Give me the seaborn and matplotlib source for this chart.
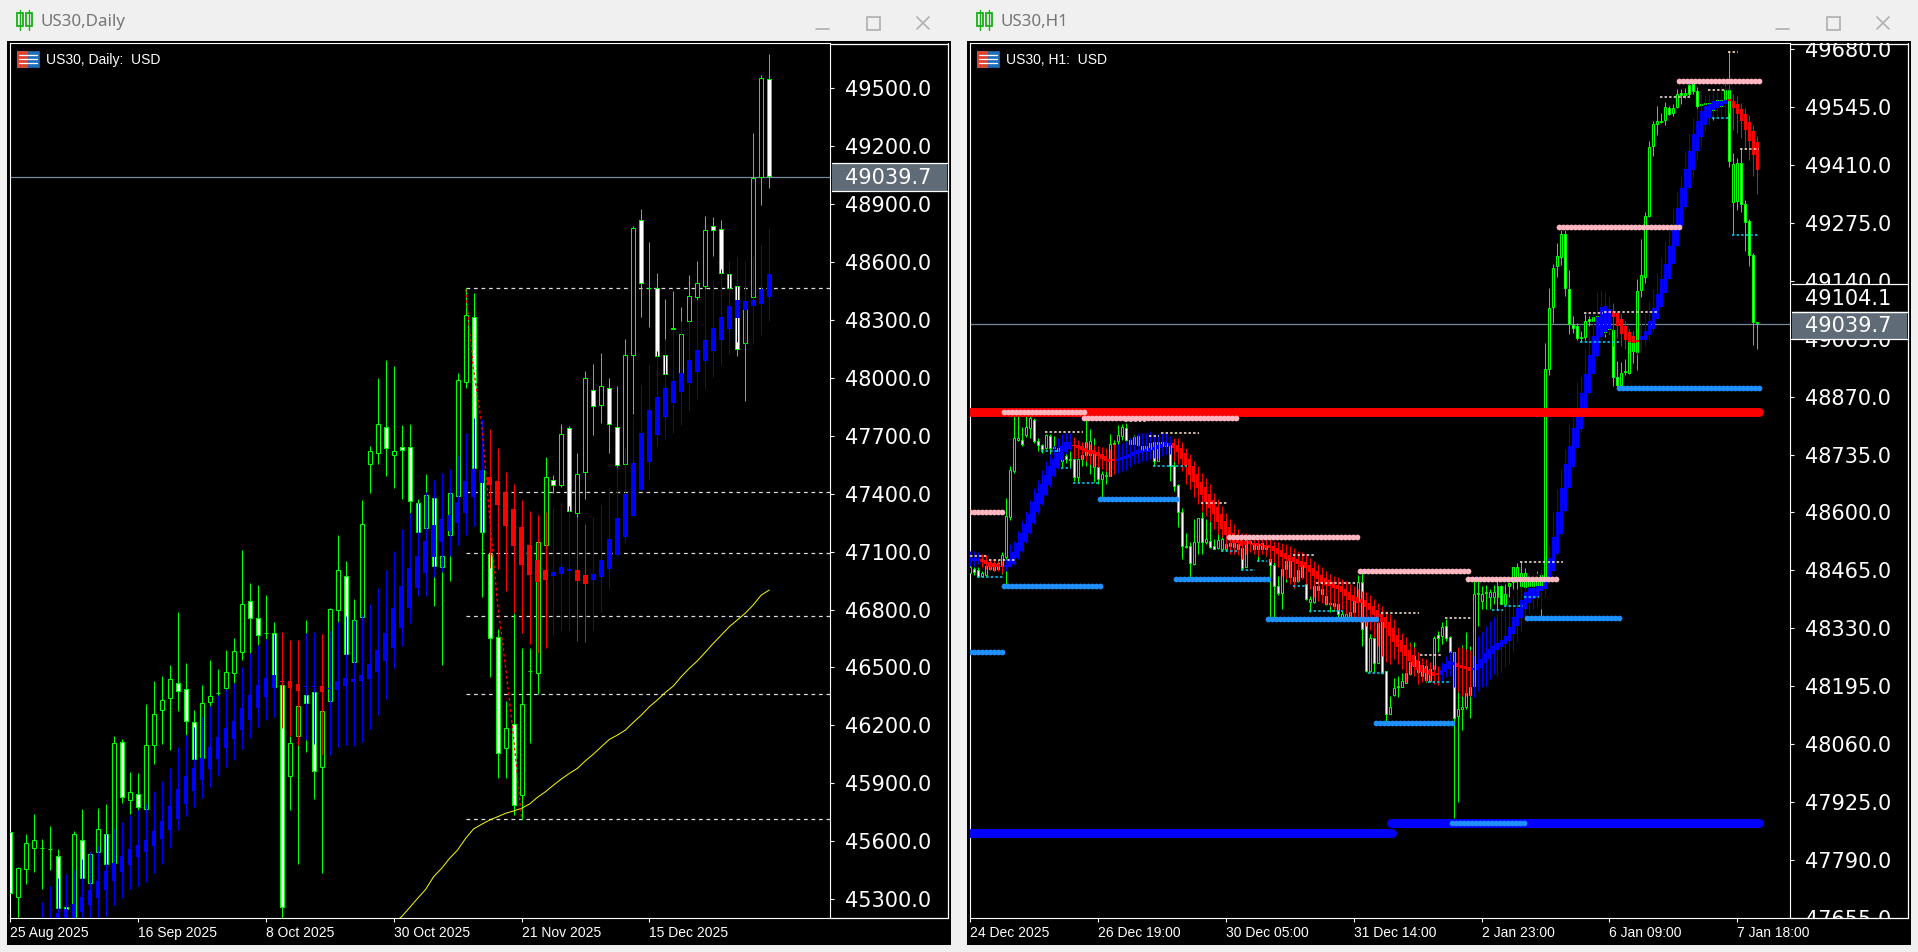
import numpy as np
import matplotlib
matplotlib.use("Agg")
import matplotlib.pyplot as plt
from matplotlib.patches import Rectangle
from matplotlib.transforms import Bbox
import seaborn as sns

# ---- Daily chart: price candles ----
d_top = [45647,45460,45590,45605,45565,45560,45525,45258,45636,45605,
         45532,45662,45636,46107,46112,45853,45843,46097,46257,46330,
         46439,46418,46387,46216,46314,46351,46370,46475,46584,46827,
         46843,46755,46680,46677,46408,46107,46299,46356,46371,46273,
         46801,47003,46972,46744,47241,47619,47759,47747,47623,47644,
         47640,47350,47392,47376,47076,47402,47987,48324,48314,47523,
         47088,46656,46185,46206,46309,46484,47148,47488,47471,47708,
         47739,47500,47998,47935,47956,47946,47744,48117,48774,48816,
         48467,48467,48117,48255,48225,48422,48490,48764,48785,48769,
         48536,48477,48395,49032,49551,49546]
d_bot = [45330,45313,45458,45567,45565,45560,45253,45251,45175,45408,
         45382,45546,45481,45486,45828,45816,45776,45769,46097,46278,
         46344,46377,46221,46024,46030,46320,46370,46396,46473,46579,
         46755,46667,46680,46401,45261,45940,46147,46314,45962,45986,
         46328,46796,46568,46530,46763,47552,47609,47635,47599,47625,
         47361,47203,47224,47027,47022,47188,47390,47977,47531,47203,
         46651,46055,46081,45786,45838,46484,46470,47133,47443,47447,
         47312,47298,47511,47853,47858,47759,47547,47552,48117,48488,
         48467,48111,48018,48253,48023,48296,48420,48477,48764,48540,
         48467,48148,48179,48417,49039,49044]
d_high = [45647,45467,45638,45741,45612,45679,45560,45296,45655,45765,
          45544,45772,45793,46145,46130,45959,45954,46311,46430,46456,
          46513,46787,46523,46280,46409,46539,46492,46591,46653,47108,
          46938,46927,46875,46736,46418,46145,46299,46746,46371,46273,
          46808,47186,47052,46855,47367,47647,47999,48092,48061,47756,
          47761,47373,47502,47412,47255,47523,48023,48464,48438,47523,
          47117,46698,46327,46781,46601,46601,47264,47588,47497,47761,
          47751,47611,48035,48072,48129,47999,47958,48201,48786,48875,
          48704,48543,48408,48450,48364,48533,48605,48838,48833,48817,
          48550,48481,48395,49268,49567,49677]
d_low = [45330,45175,45379,45441,45355,45451,45175,45158,45158,45296,
         45279,45503,45451,45477,45800,45741,45762,45745,46000,46104,
         46073,46276,46150,45978,46021,46301,46352,46383,46418,46539,
         46573,46617,46646,46392,45175,45762,45482,46062,45819,45437,
         46328,46734,46568,46530,46763,47405,47554,47492,47430,47371,
         47302,47203,47160,46818,46515,46950,47390,47949,47505,46867,
         46452,45929,45926,45736,45714,46107,46363,47133,47402,47436,
         47312,47276,47374,47701,47764,47611,47471,47471,47813,48312,
         48265,48111,48018,48253,48006,48296,48403,48458,48631,48540,
         48467,48110,47877,48417,48892,48983]
d_white = [0,6,7,9,12,14,16,21,22,23,30,31,33,34,37,38,42,47,49,50,51,53,58,59,
           60,61,63,68,70,73,75,76,79,81,82,88,89,90,91,95]

# Daily smoothed candles, bar 4 onwards
da_first = 4
da_top = [45158,45149,45227,45249,45275,45310,45348,45393,45444,45486,45524,45558,
          45579,45607,45653,45705,45783,45871,45938,45979,46031,46088,46140,46187,
          46221,46290,46356,46408,46444,46459,46428,46428,46415,46402,46402,46404,
          46394,46428,46444,46439,46459,46518,46591,46677,46808,46922,47015,47077,
          47155,47238,47269,47290,47357,47466,47526,47523,47485,47466,47409,47321,
          47228,47134,47057,47005,46995,47019,47010,47005,46979,46984,47057,47165,
          47274,47399,47557,47713,47834,47901,47947,47984,48023,48092,48144,48196,
          48258,48313,48372,48403,48396,48403,48460,48538]
da_bot = [45054,45054,45175,45158,45175,45235,45270,45308,45349,45394,45443,45477,
          45519,45546,45577,45614,45660,45715,45795,45860,45919,45974,46026,46085,
          46130,46178,46230,46292,46349,46394,46425,46394,46378,46397,46397,46373,
          46389,46385,46406,46425,46430,46440,46478,46534,46601,46705,46810,46913,
          46989,47072,47152,47207,47248,47300,47380,47454,47445,47342,47234,47131,
          47031,46979,46945,46953,46976,46986,47001,46948,46932,46953,46969,47010,
          47083,47176,47285,47419,47566,47701,47797,47870,47928,47973,48032,48087,
          48139,48196,48253,48310,48351,48372,48382,48419]
da_high = [45286,45368,45410,45431,45455,45508,45544,45581,45636,45667,45700,45736,
           45762,45796,45860,45912,45979,46088,46150,46190,46249,46301,46358,46389,
           46418,46503,46575,46616,46648,46673,46682,46642,46642,46677,46684,46673,
           46694,46734,46767,46746,46777,46829,46912,47005,47103,47216,47298,47350,
           47411,47471,47506,47526,47600,47713,47792,47785,47733,47637,47514,47450,
           47367,47310,47290,47305,47331,47357,47336,47281,47243,47281,47342,47433,
           47540,47640,47804,47963,48072,48137,48201,48253,48294,48300,48403,48455,
           48507,48562,48605,48626,48605,48631,48693,48776]
da_low = [45054,45054,45054,45054,45054,45158,45192,45192,45215,45270,45308,45353,
          45368,45389,45437,45484,45567,45658,45731,45779,45824,45881,45938,45985,
          46021,46078,46135,46192,46228,46242,46185,46145,46099,46125,46104,46047,
          46045,46090,46099,46093,46114,46181,46254,46337,46497,46611,46730,46870,
          46870,46970,46995,47077,47134,47186,47233,47203,47014,47008,46896,46781,
          46677,46622,46573,46601,46663,46694,46694,46637,46632,46694,46787,46907,
          47077,47146,47285,47419,47471,47649,47685,47714,47756,47828,47892,47942,
          48004,48067,48124,48187,48175,48175,48222,48294]
da_red = [34,35,36,39,60,61,62,63,64,65,66,67,71,72]

# Daily moving average, bar 48 onwards
ma_first = 48
ma_values = [45175,45210,45257,45305,45351,45417,45460,45512,45555,45615,45664,45688,
             45710,45727,45745,45757,45771,45793,45828,45857,45891,45923,45952,45978,
             46017,46052,46090,46128,46150,46176,46216,46254,46297,46332,46371,46404,
             46453,46496,46534,46579,46625,46668,46711,46746,46781,46824,46875,46901]

swing_bars = [57,58,59,60,61,62,63,64]
swing_prices = [48458,48041,47764,47281,46832,46504,46142,45719]
d_levels = [48464,47411,47091,46765,46361,45714]
d_ticks = [45300,45600,45900,46200,46500,46800,47100,47400,47700,48000,48300,48600,48900,49200,49500]
d_date_bars = [0,16,32,48,64,80]
d_date_labels = ["25 Aug 2025","16 Sep 2025","8 Oct 2025","30 Oct 2025","21 Nov 2025","15 Dec 2025"]

# ---- H1 chart: price candles ----
c_top = [48473,48469,48467,48459,48476,48473,48472,48483,48500,48591,
         48698,48774,48773,48770,48800,48819,48816,48767,48757,48781,
         48779,48753,48751,48724,48731,48725,48725,48725,48733,48765,
         48767,48736,48705,48689,48688,48760,48761,48781,48800,48798,
         48770,48777,48778,48756,48755,48763,48764,48765,48765,48763,
         48757,48709,48663,48602,48523,48523,48532,48586,48586,48539,
         48534,48523,48537,48539,48526,48529,48529,48526,48517,48535,
         48534,48526,48526,48530,48522,48491,48478,48428,48468,48487,
         48487,48449,48466,48477,48433,48398,48428,48428,48422,48406,
         48388,48389,48386,48363,48363,48369,48394,48439,48437,48348,
         48307,48307,48342,48344,48230,48146,48190,48195,48207,48227,
         48251,48266,48255,48245,48243,48235,48307,48314,48332,48335,
         48309,48274,48142,48146,48179,48193,48411,48412,48410,48415,
         48415,48415,48429,48429,48411,48435,48473,48472,48458,48459,
         48445,48441,48445,48455,48935,49077,49170,49198,49249,49249,
         49121,49038,49035,49008,49046,49052,49055,49058,49050,49042,
         49044,49025,48916,48926,48929,48997,49010,49116,49154,49290,
         49452,49506,49512,49512,49545,49543,49543,49575,49578,49578,
         49596,49598,49582,49551,49555,49554,49554,49562,49562,49585,
         49585,49411,49415,49415,49318,49279,49199,49044]
c_bot = [48460,48462,48452,48452,48455,48468,48466,48469,48478,48497,
         48590,48697,48770,48760,48781,48798,48767,48757,48748,48750,
         48750,48750,48743,48719,48724,48722,48683,48683,48725,48733,
         48734,48705,48677,48677,48686,48685,48760,48767,48778,48768,
         48759,48759,48757,48745,48745,48747,48719,48720,48755,48755,
         48708,48662,48602,48521,48520,48483,48480,48532,48532,48532,
         48520,48515,48518,48516,48514,48522,48520,48514,48470,48473,
         48530,48514,48516,48515,48514,48477,48428,48412,48412,48468,
         48450,48441,48441,48449,48399,48392,48392,48420,48410,48387,
         48387,48383,48363,48356,48356,48356,48369,48394,48328,48231,
         48230,48249,48249,48226,48130,48131,48175,48193,48194,48203,
         48224,48243,48228,48220,48210,48208,48235,48307,48313,48307,
         48274,48120,48125,48141,48146,48175,48195,48410,48393,48412,
         48404,48402,48402,48387,48387,48429,48437,48441,48428,48427,
         48428,48428,48429,48421,48445,48935,49079,49174,49195,49123,
         49040,49029,49006,49006,49009,49046,49046,49048,49042,49020,
         49027,48916,48897,48897,48927,48925,48976,48975,49118,49148,
         49292,49453,49505,49511,49514,49528,49531,49545,49572,49572,
         49574,49581,49547,49550,49553,49547,49539,49547,49547,49562,
         49420,49323,49326,49318,49277,49200,49044,49042]
c_high = [48473,48473,48472,48464,48487,48487,48480,48489,48509,48633,
          48708,48826,48829,48799,48824,48827,48821,48774,48760,48784,
          48782,48778,48753,48751,48743,48743,48726,48728,48743,48817,
          48794,48774,48751,48697,48705,48782,48768,48804,48805,48809,
          48774,48781,48782,48759,48774,48767,48768,48768,48774,48771,
          48760,48719,48667,48611,48551,48531,48584,48588,48600,48584,
          48580,48539,48557,48551,48534,48538,48538,48538,48522,48538,
          48538,48532,48530,48534,48530,48518,48484,48453,48487,48515,
          48491,48456,48487,48487,48453,48406,48450,48445,48425,48414,
          48398,48390,48394,48371,48371,48390,48406,48454,48459,48367,
          48317,48309,48352,48352,48231,48172,48214,48220,48226,48243,
          48297,48297,48274,48259,48251,48239,48311,48324,48344,48352,
          48313,48276,48191,48291,48321,48290,48441,48441,48429,48432,
          48421,48432,48441,48431,48433,48439,48474,48482,48485,48470,
          48452,48449,48463,48460,48996,49124,49180,49227,49259,49259,
          49164,49058,49042,49022,49062,49058,49059,49065,49062,49062,
          49050,49027,48954,48950,48957,49027,49024,49143,49238,49300,
          49465,49512,49548,49531,49557,49548,49553,49587,49587,49589,
          49601,49601,49591,49570,49570,49566,49562,49578,49581,49599,
          49675,49438,49425,49450,49329,49285,49205,49045]
c_low = [48460,48455,48449,48449,48453,48466,48464,48467,48456,48433,
         48583,48692,48767,48755,48776,48774,48762,48743,48739,48747,
         48736,48747,48736,48705,48716,48705,48674,48672,48708,48708,
         48689,48670,48666,48635,48667,48684,48747,48756,48768,48767,
         48736,48743,48747,48736,48736,48743,48708,48719,48753,48743,
         48674,48650,48565,48491,48518,48449,48478,48503,48503,48526,
         48517,48514,48516,48511,48511,48512,48514,48511,48466,48472,
         48526,48503,48487,48511,48499,48356,48356,48408,48375,48437,
         48445,48425,48437,48449,48397,48367,48390,48418,48408,48384,
         48367,48371,48352,48352,48352,48352,48352,48367,48290,48228,
         48228,48228,48249,48223,48115,48130,48173,48169,48193,48203,
         48221,48239,48224,48212,48204,48206,48234,48274,48293,48301,
         48270,47888,47925,48092,48142,48122,48193,48336,48375,48375,
         48375,48387,48373,48386,48386,48402,48421,48419,48410,48425,
         48425,48421,48389,48358,48429,48920,49041,49148,49176,49104,
         49016,49019,49003,48997,49003,49034,49042,49042,49031,49008,
         49017,48895,48892,48895,48920,48923,48948,48932,49103,49134,
         49289,49430,49479,49508,49504,49526,49523,49543,49553,49566,
         49570,49574,49523,49527,49531,49531,49515,49531,49531,49550,
         49404,49248,49306,49301,49209,49174,48990,48980]
c_white = [1,2,13,16,17,18,20,24,26,32,39,42,46,50,51,52,53,55,58,60,61,68,71,75,76,77,
           81,84,89,92,98,99,101,103,104,117,119,120,121,133,149,150,151,152,155,160,
           161,162,175,178,180,181,182,190,193,194,195,196]

# H1 smoothed candles
ca_top = [48495,48494,48495,48491,48489,48485,48482,48480,48476,48477,
          48491,48507,48530,48551,48574,48597,48624,48645,48666,48687,
          48708,48725,48739,48756,48764,48764,48758,48757,48755,48751,
          48746,48745,48740,48737,48731,48725,48724,48724,48729,48732,
          48737,48742,48745,48746,48747,48750,48753,48757,48760,48764,
          48762,48761,48757,48750,48738,48724,48708,48689,48672,48659,
          48643,48629,48612,48596,48580,48566,48551,48542,48536,48534,
          48534,48529,48528,48526,48524,48524,48522,48517,48512,48505,
          48501,48496,48491,48487,48484,48477,48470,48463,48454,48447,
          48442,48437,48432,48428,48422,48415,48408,48403,48398,48396,
          48389,48382,48373,48363,48356,48345,48331,48315,48303,48291,
          48279,48268,48256,48245,48238,48233,48228,48226,48233,48247,
          48254,48252,48250,48245,48242,48240,48238,48247,48259,48273,
          48282,48289,48296,48303,48312,48333,48356,48377,48396,48415,
          48424,48425,48428,48428,48445,48493,48544,48600,48656,48712,
          48755,48798,48833,48879,48922,48966,49011,49055,49079,49081,
          49073,49069,49064,49050,49034,49020,49011,49003,49011,49023,
          49046,49076,49110,49145,49180,49220,49263,49310,49356,49401,
          49442,49483,49512,49535,49548,49553,49558,49558,49558,49562,
          49564,49559,49553,49541,49529,49511,49490,49464]
ca_bot = [48485,48486,48487,48485,48480,48473,48472,48472,48472,48473,
          48474,48480,48495,48511,48532,48553,48575,48600,48620,48641,
          48663,48685,48704,48722,48740,48749,48755,48750,48746,48742,
          48737,48736,48731,48724,48719,48717,48719,48719,48722,48724,
          48726,48732,48736,48739,48741,48742,48745,48747,48751,48755,
          48756,48750,48742,48724,48708,48687,48671,48656,48641,48625,
          48610,48596,48578,48561,48547,48539,48530,48528,48522,48525,
          48527,48524,48521,48521,48518,48518,48510,48503,48496,48491,
          48487,48484,48479,48472,48470,48461,48451,48445,48435,48431,
          48428,48423,48421,48415,48405,48397,48394,48390,48389,48380,
          48373,48361,48353,48344,48331,48312,48298,48286,48275,48266,
          48254,48243,48233,48228,48226,48221,48219,48222,48221,48228,
          48235,48245,48240,48237,48235,48231,48233,48233,48238,48250,
          48259,48270,48279,48286,48293,48300,48317,48335,48354,48375,
          48389,48398,48403,48417,48422,48437,48464,48503,48549,48604,
          48658,48706,48751,48794,48833,48879,48922,48965,49008,49020,
          49027,49056,49034,49015,49003,48997,48996,48997,49001,49003,
          49013,49027,49050,49079,49111,49143,49180,49222,49267,49312,
          49355,49398,49442,49475,49504,49519,49539,49543,49547,49553,
          49559,49543,49529,49513,49492,49466,49434,49397]
ca_high = [48511,48511,48507,48503,48500,48491,48491,48487,48487,48491,
           48526,48534,48557,48580,48604,48629,48658,48676,48698,48719,
           48736,48755,48774,48782,48786,48786,48776,48768,48765,48765,
           48759,48757,48755,48753,48751,48747,48759,48759,48763,48767,
           48774,48778,48786,48786,48786,48790,48782,48782,48786,48786,
           48778,48774,48774,48765,48751,48736,48720,48708,48693,48681,
           48666,48646,48631,48615,48598,48584,48573,48561,48553,48551,
           48549,48546,48542,48542,48538,48538,48534,48532,48530,48526,
           48522,48518,48511,48507,48503,48495,48487,48480,48472,48464,
           48456,48453,48449,48445,48441,48433,48429,48422,48418,48414,
           48408,48398,48390,48383,48371,48363,48352,48332,48318,48309,
           48296,48286,48274,48262,48259,48251,48245,48243,48251,48266,
           48278,48274,48286,48286,48282,48280,48266,48313,48321,48336,
           48348,48356,48363,48371,48383,48398,48406,48422,48437,48449,
           48460,48456,48460,48468,48499,48522,48600,48654,48701,48747,
           48809,48844,48903,48918,48984,49028,49069,49114,49118,49114,
           49104,49089,49069,49063,49046,49027,49024,49031,49046,49062,
           49093,49121,49159,49193,49232,49263,49310,49349,49384,49442,
           49484,49519,49543,49578,49570,49574,49585,49581,49593,49597,
           49601,49574,49570,49554,49543,49527,49504,49477]
ca_low = [48476,48476,48480,48472,48468,48466,48464,48464,48460,48464,
          48472,48478,48491,48509,48530,48549,48573,48596,48618,48638,
          48660,48683,48701,48719,48736,48745,48728,48728,48724,48720,
          48712,48708,48705,48701,48697,48685,48689,48693,48697,48698,
          48706,48712,48716,48720,48720,48724,48728,48728,48732,48736,
          48736,48720,48712,48697,48666,48654,48635,48619,48604,48592,
          48580,48561,48549,48542,48518,48503,48503,48501,48491,48503,
          48507,48503,48499,48504,48499,48484,48484,48472,48453,48445,
          48433,48425,48441,48445,48433,48421,48402,48394,48390,48387,
          48383,48375,48371,48375,48363,48359,48356,48352,48344,48336,
          48325,48309,48290,48266,48251,48247,48259,48247,48235,48204,
          48224,48220,48200,48204,48208,48208,48200,48198,48208,48216,
          48220,48193,48181,48173,48173,48173,48169,48185,48193,48196,
          48212,48224,48220,48229,48239,48247,48274,48297,48321,48356,
          48363,48375,48383,48375,48402,48435,48462,48501,48547,48601,
          48656,48704,48749,48791,48829,48875,48922,48961,49003,49016,
          49019,48988,49007,48989,48982,48972,48976,48968,48975,48988,
          48999,49023,49050,49079,49111,49143,49180,49222,49263,49308,
          49351,49380,49422,49453,49488,49500,49519,49523,49523,49527,
          49531,49492,49484,49473,49450,49422,49384,49341]
ca_red = [3,4,5,6,7,8] + list(range(26,37)) + list(range(51,118)) + [122,123,124,125] \
         + list(range(161,168)) + list(range(190,198))

# H1 support / resistance levels as start bar, end bar, price
pink_start = [0,8.5,28.5,64.8,97.5,124.7,147.5,177.5]
pink_end = [8.5,28.5,66.6,97.5,124.7,147.5,177.5,197.5]
pink_price = [48600,48835,48819,48544,48463,48446,49266,49605]
sky_start = [0,8.5,32.5,51.5,74.5,101.5,120.6,139.5,162.5]
sky_end = [8.5,32.5,51.5,74.5,101.5,120.6,139.5,162.5,197.5]
sky_price = [48276,48428,48632,48444,48351,48109,47876,48353,48891]
res_start = [0,4.75,18.75,38.75,44.75,47.7,57.7,80.7,86.7,102.8,112.7,118.8,137.7,153.75,158.75,172.7,184.75,189.75,192.7]
res_end = [4.3,11.4,28.3,44.3,47.4,57.3,64.3,86.4,96.8,112.3,118.3,125.3,148.3,158.5,172.3,180.3,189.3,192.3,197.5]
res_price = [48499,48489,48788,48812,48778,48785,48622,48501,48435,48366,48269,48354,48484,49064,49066,49567,49585,49674,49448]
sup_start = [1.7,17.7,22.7,25.75,45.7,62.7,67.7,71.7,80.7,84.75,99.7,114.7,130.7,133.7,138.7,152.7,185.7,190.7]
sup_end = [8.3,22.3,25.3,32.3,54.3,67.3,71.3,74.3,84.3,93.3,103.3,120.3,133.3,138.3,142.3,162.3,190.3,197.5]
sup_price = [48450,48743,48703,48668,48708,48511,48466,48487,48429,48371,48227,48206,48373,48383,48404,48997,49519,49246]
major_red = 48835
major_blue_start = [0,105.3]
major_blue_end = [106,198]
major_blue_price = [47853,47876]
h_ticks = list(range(47655,49681,135))
h_date_bars = [0,32,64,96,128,160,192]
h_date_labels = ["24 Dec 2025","26 Dec 19:00","30 Dec 05:00","31 Dec 14:00","2 Jan 23:00","6 Jan 09:00","7 Jan 18:00"]

bid_price = 49039.7
ask_price = 49104.1

W, H = 1918, 952
GREEN = "#00ff00"
BLUE = "#0000ff"
RED = "#ff0000"
SLATE = "#778899"

sns.set_theme(style="dark", rc={"axes.facecolor": "black", "axes.edgecolor": "white",
                                "xtick.color": "white", "ytick.color": "white",
                                "xtick.bottom": True, "ytick.right": True})
plt.rcParams["font.family"] = ["DejaVu Sans"]

fig = plt.figure(figsize=(W / 100, H / 100), dpi=100, facecolor="#f0f0f0")


def pos(x0, y0, x1, y1):
    return [x0 / W, 1 - y1 / H, (x1 - x0) / W, (y1 - y0) / H]


def draw_candles(ax, first, top, bot, high, low, white, width):
    x = np.arange(first, first + len(top))
    wicks = ax.vlines(x, low, high, color=GREEN, lw=0.72, zorder=2)
    wicks.set_snap(True)
    faces = ["white" if i in white else "black" for i in x]
    ax.bar(x, np.array(top) - np.array(bot), bottom=bot, width=width, color=faces,
           edgecolor=GREEN, linewidth=0.72, zorder=3)


def draw_smoothed(ax, first, top, bot, high, low, red, width):
    x = np.arange(first, first + len(top))
    cols = [RED if i in red else BLUE for i in x]
    wicks = ax.vlines(x, low, high, colors=cols, lw=0.72, zorder=4)
    wicks.set_snap(True)
    ax.bar(x, np.array(top) - np.array(bot), bottom=bot, width=width, color=cols,
           linewidth=0, zorder=5)


def style_axes(ax, xlim, ylim, yticks, bars, labels, x0, x1):
    ax.set_xlim(*xlim)
    ax.set_ylim(*ylim)
    ax.yaxis.tick_right()
    ax.set_yticks(yticks)
    ax.set_yticklabels([f"{t:.1f}" for t in yticks], fontsize=15, color="white")
    ax.tick_params(axis="y", length=3, width=0.8, pad=8, colors="white")
    ax.set_xticks(bars)
    ax.set_xticklabels(labels, fontsize=10, color="white", ha="left",
                       fontfamily="Liberation Sans")
    ax.tick_params(axis="x", length=3, width=0.8, pad=3, colors="white")
    ax.set_xlabel("")
    ax.set_ylabel("")
    ax.grid(False)
    for s in ax.spines.values():
        s.set_color("white")
        s.set_linewidth(0.8)
    clip = Bbox.from_extents(x0, H - 918, x1, H - 43)
    for lab in ax.get_yticklabels():
        lab.set_clip_on(True)
        lab.set_clip_box(clip)


# Daily chart
ax1 = fig.add_axes(pos(10, 43, 830, 918), zorder=2)
ax1.hlines(d_levels, 57, 102.6, color="#dddddd", lw=0.9, linestyles=(0, (3, 3)), zorder=1)
ax1.axhline(bid_price, color=SLATE, lw=0.9, zorder=1)
draw_candles(ax1, 0, d_top, d_bot, d_high, d_low, d_white, 0.5)
draw_smoothed(ax1, da_first, da_top, da_bot, da_high, da_low, da_red, 0.56)
sns.lineplot(x=np.arange(ma_first, ma_first + len(ma_values)), y=ma_values, ax=ax1,
             color="#ffff00", lw=0.7, zorder=6, legend=False)
sns.lineplot(x=swing_bars, y=swing_prices, ax=ax1, color=RED, lw=1.0, zorder=7,
             linestyle=(0, (2, 2)), legend=False)
style_axes(ax1, (-0.01, 102.6), (45203, 49733), d_ticks, d_date_bars, d_date_labels, 830, 948)

# H1 chart
ax2 = fig.add_axes(pos(970, 43, 1790, 918), zorder=2)
ax2.axhline(bid_price, color=SLATE, lw=0.9, zorder=1)
draw_candles(ax2, 0, c_top, c_bot, c_high, c_low, c_white, 0.5)
draw_smoothed(ax2, 0, ca_top, ca_bot, ca_high, ca_low, ca_red, 0.8)
ax2.hlines(res_price, res_start, res_end, color="#ffe8d8", lw=1.1, linestyles=(0, (1.6, 1.4)), zorder=7)
ax2.hlines(sup_price, sup_start, sup_end, color="#00d8ff", lw=1.1, linestyles=(0, (1.6, 1.4)), zorder=7)
sns.lineplot(x=[0, 197.5], y=[major_red, major_red], ax=ax2, color=RED, lw=6.4,
             solid_capstyle="round", zorder=8, legend=False)
for s, e, p in zip(major_blue_start, major_blue_end, major_blue_price):
    sns.lineplot(x=[s, e - 0.5], y=[p, p], ax=ax2, color=BLUE, lw=6.4,
                 solid_capstyle="round", zorder=8, legend=False)
for s, e, p in zip(pink_start, pink_end, pink_price):
    xs = np.arange(s, e + 0.01)
    sns.scatterplot(x=xs, y=np.full(len(xs), p), ax=ax2, color="#ffb6c1", s=17,
                    linewidth=0, zorder=9, legend=False)
for s, e, p in zip(sky_start, sky_end, sky_price):
    xs = np.arange(s, e + 0.01)
    sns.scatterplot(x=xs, y=np.full(len(xs), p), ax=ax2, color="#1e90ff", s=17,
                    linewidth=0, zorder=9, legend=False)
style_axes(ax2, (-0.01, 205.2), (47655, 49694), h_ticks, h_date_bars, h_date_labels, 1790, 1908)

# Window chrome behind the charts
back = fig.add_axes([0, 0, 1, 1], zorder=0)
back.set_xlim(0, W)
back.set_ylim(H, 0)
back.axis("off")
front = fig.add_axes([0, 0, 1, 1], zorder=5)
front.set_xlim(0, W)
front.set_ylim(H, 0)
front.axis("off")
front.patch.set_alpha(0)

for dx, title, legend_text in [(0, "US30,Daily", "US30, Daily:  USD"), (960, "US30,H1", "US30, H1:  USD")]:
    back.add_patch(Rectangle((7 + dx, 41), 944, 904, fc="black", ec="none"))
    back.plot([948 + dx, 948 + dx], [43, 918], color="white", lw=0.9)
    back.plot([830 + dx, 948 + dx], [43.5, 43.5], color="white", lw=0.9)
    back.plot([830 + dx, 948 + dx], [918, 918], color="white", lw=0.9)
    front.text(41 + dx, 21.5, title, fontsize=12.2, color="#757575", va="center", family="Noto Sans")
    front.text(45.5 + dx, 60, legend_text, fontsize=10, color="white", va="center", family="Liberation Sans")
    # candle icon in the title bar
    for cx in (19.5, 28.5):
        front.plot([cx + dx, cx + dx], [9.5, 30], color="#18b018", lw=1.0)
        front.add_patch(Rectangle((cx - 3 + dx, 13), 6, 13, fc="#f0f0f0", ec="#18b018", lw=1.3))
    # window buttons
    front.plot([816 + dx, 829 + dx], [29, 29], color="#b0b0b0", lw=1.2)
    front.add_patch(Rectangle((867 + dx, 17), 12.5, 12.5, fc="none", ec="#b0b0b0", lw=1.2))
    front.plot([917 + dx, 929 + dx], [17, 29], color="#b0b0b0", lw=1.2)
    front.plot([929 + dx, 917 + dx], [17, 29], color="#b0b0b0", lw=1.2)
    # symbol book icon
    front.add_patch(Rectangle((17 + dx, 51), 11, 16, fc="#e04030", ec="#d06050", lw=0.6))
    front.add_patch(Rectangle((28 + dx, 51), 11, 16, fc="#2070c0", ec="#2060a0", lw=0.6))
    for yy in (55, 59, 63):
        front.plot([19 + dx, 37 + dx], [yy, yy], color="white", lw=0.9)


def price_tag(x0, y0, y1, text, face):
    front.add_patch(Rectangle((x0, y0), 115, y1 - y0, fc=face, ec="none"))
    front.plot([x0, x0 + 115], [y0, y0], color="white", lw=0.9)
    front.plot([x0, x0 + 115], [y1, y1], color="white", lw=0.9)
    front.text(x0 + 13, (y0 + y1) / 2 + 1, text, fontsize=15, color="white", va="center", ha="left")


price_tag(831.5, 162.5, 190.5, f"{bid_price:.1f}", "#5f6b76")
price_tag(1791.5, 283.5, 312, f"{ask_price:.1f}", "black")
price_tag(1791.5, 312, 338.5, f"{bid_price:.1f}", "#5f6b76")

fig.savefig("out.png", dpi=100, facecolor=fig.get_facecolor())
